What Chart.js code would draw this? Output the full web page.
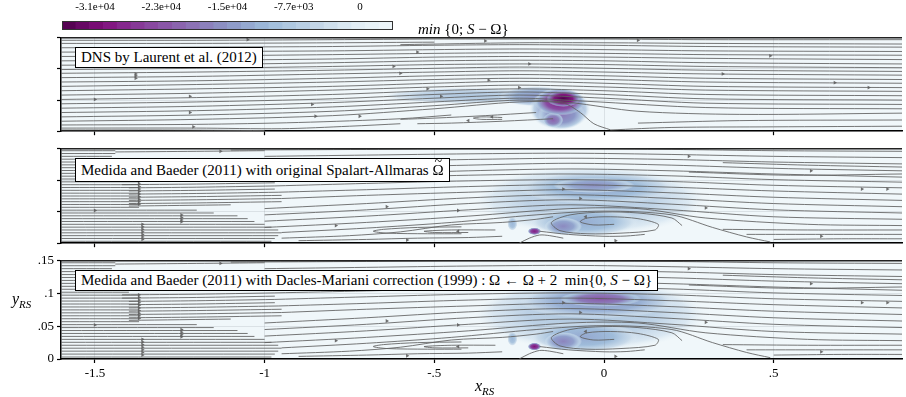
<!DOCTYPE html>
<html>
<head>
<meta charset="utf-8">
<script src="https://cdn.jsdelivr.net/npm/chart.js@4.4.1/dist/chart.umd.min.js"></script>
<style>
  body { margin: 0; background: #fff; width: 906px; height: 397px; position: relative; overflow: hidden;
         font-family: "Liberation Serif", "Times New Roman", serif; }
  canvas { position: absolute; left: 0; }
  .tag { position: absolute; left: 75px; background: #fff; border: 1px solid #000; font-size: 15px;
         line-height: 19px; padding: 0 5px; white-space: nowrap; color: #000; }
  .lab { position: absolute; font-size: 15px; line-height: 18px; white-space: nowrap; color: #000; }
  .lab sub { font-size: 11px; font-style: italic; vertical-align: -4px; line-height: 0; }
  .til { position: relative; display: inline-block; }
  .til span { position: absolute; left: 2px; top: -8px; font-size: 14px; }
</style>
</head>
<body>
<canvas id="cbar"></canvas>
<canvas id="p1"></canvas>
<canvas id="p2"></canvas>
<canvas id="p3"></canvas>

<div class="tag" style="top:47px">DNS by Laurent et al. (2012)</div>
<div class="tag" style="top:158px;line-height:22px">Medida and Baeder (2011) with original Spalart-Allmaras <span class="til">Ω<span>~</span></span></div>
<div class="tag" style="top:270px">Medida and Baeder (2011) with Dacles-Mariani correction (1999) : Ω ← Ω + 2 &nbsp;min{0, <i>S</i> − Ω}</div>
<div class="lab" style="left:418px;top:20px"><i>min</i> {0; <i>S</i> − Ω}</div>
<div class="lab" style="left:12px;top:290px;font-size:16px"><i>y</i><sub>RS</sub></div>
<div class="lab" style="left:475px;top:377px;font-size:16px"><i>x</i><sub>RS</sub></div>

<script>
Chart.defaults.font.family = '"Liberation Serif", "Times New Roman", serif';
Chart.defaults.color = '#000';

// axes
const xMin = -1.6, xMax = 0.878;
const xTicks = [-1.5, -1, -0.5, 0, 0.5];
const xTickLabels = ['-1.5', '-1', '-.5', '0', '.5'];
const yTicks = [0, 0.05, 0.1, 0.15];
const yTickLabels = ['0', '.05', '.1', '.15'];

// colorbar
const cbarMin = -30800;
const cbarTicks = [-30800, -23100, -15400, -7700, 0];
const cbarTickLabels = ['-3.1e+04', '-2.3e+04', '-1.5e+04', '-7.7e+03', '0'];
const cbarLevels = [-30158, -28875, -27592, -26308, -25025, -23742, -22458, -21175, -19892, -18608,
  -17325, -16042, -14758, -13475, -12192, -10908, -9625, -8342, -7058, -5775, -4492, -3208, -1925, -642];
const cmapStops = ['#f0f7fa', '#e0ecf4', '#bfd3e6', '#9ebcda', '#8c96c6', '#8c6bb1', '#88419d', '#810f7c', '#4d004b'];

// field blobs: x, y, half-width, half-height, value of min{0;S-Omega}
const dnsBlobs = [
  [-0.40, 0.057, 0.25, 0.013, -9500],
  [-0.20, 0.056, 0.11, 0.016, -15000],
  [-0.13, 0.036, 0.09, 0.034, -17000],
  [-0.125, 0.027, 0.07, 0.024, -18000],
  [-0.15, 0.018, 0.03, 0.012, -20000],
  [-0.13, 0.047, 0.075, 0.022, -26000],
  [-0.12, 0.052, 0.05, 0.013, -31000]
];
const sa2Blobs = [
  [-0.04, 0.068, 0.34, 0.055, -9000],
  [-0.02, 0.088, 0.23, 0.026, -13500],
  [-0.03, 0.092, 0.12, 0.012, -16000],
  [-0.06, 0.034, 0.16, 0.023, -13000],
  [-0.12, 0.027, 0.055, 0.014, -16500],
  [-0.205, 0.019, 0.02, 0.006, -26000],
  [-0.27, 0.031, 0.015, 0.011, -12000]
];
const sa3Blobs = [
  [-0.04, 0.068, 0.34, 0.055, -9500],
  [-0.02, 0.088, 0.23, 0.026, -15000],
  [-0.01, 0.092, 0.12, 0.012, -21000],
  [-0.06, 0.034, 0.16, 0.023, -13500],
  [-0.12, 0.027, 0.055, 0.014, -17000],
  [-0.205, 0.019, 0.02, 0.006, -27000],
  [-0.27, 0.031, 0.015, 0.011, -12000]
];

// streamlines, DNS panel
const dnsLines = [
  [[-1.6,.146],[-1.2,.146],[-0.8,.147],[-0.5,.148],[-0.25,.148],[0,.148],[0.3,.147],[0.878,.147]],
  [[-1.6,.141],[-1.2,.141],[-0.8,.142],[-0.5,.143]],
  [[-0.6,.139],[-0.25,.142],[0,.142],[0.3,.141],[0.878,.140]],
  [[-1.6,.134],[-1.2,.135],[-0.8,.136],[-0.5,.138],[-0.25,.139],[0,.138],[0.3,.136],[0.878,.135]],
  [[-1.6,.127],[-1.2,.128],[-0.8,.129],[-0.5,.131],[-0.25,.132],[0,.131],[0.3,.129],[0.878,.128]],
  [[-1.6,.120],[-1.2,.121],[-0.8,.123],[-0.5,.125],[-0.25,.126],[0,.125],[0.3,.123],[0.878,.122]],
  [[-1.6,.113],[-1.2,.114],[-0.8,.116],[-0.5,.119],[-0.25,.120],[0,.119],[0.3,.117],[0.878,.115]],
  [[-1.6,.106],[-1.2,.107],[-0.8,.110],[-0.5,.113],[-0.25,.114],[0,.113],[0.3,.110],[0.878,.108]],
  [[-1.6,.099],[-1.2,.101],[-0.8,.104],[-0.5,.107],[-0.25,.108],[0,.107],[0.3,.104],[0.878,.102]],
  [[-1.6,.093],[-1.2,.095],[-0.8,.098],[-0.5,.101],[-0.25,.103],[0,.101],[0.3,.098],[0.878,.096]],
  [[-1.6,.086],[-1.2,.088],[-0.8,.092],[-0.5,.095],[-0.25,.097],[0,.095],[0.3,.092],[0.878,.090]],
  [[-1.6,.079],[-1.2,.081],[-0.8,.085],[-0.5,.089],[-0.25,.091],[0,.089],[0.3,.085],[0.878,.083]],
  [[-1.6,.072],[-1.2,.075],[-0.8,.079],[-0.5,.083],[-0.25,.085],[0,.083],[0.3,.079],[0.878,.077]],
  [[-1.6,.065],[-1.2,.068],[-0.8,.072],[-0.5,.077],[-0.25,.080],[0,.077],[0.3,.072],[0.878,.070]],
  [[-1.6,.058],[-1.2,.061],[-0.8,.066],[-0.5,.071],[-0.25,.074],[0,.071],[0.3,.066],[0.878,.064]],
  [[-1.6,.051],[-1.2,.054],[-0.8,.059],[-0.5,.065],[-0.25,.068],[0,.065],[0.3,.059],[0.878,.057]],
  [[-1.6,.044],[-1.2,.047],[-0.8,.052],[-0.5,.059],[-0.25,.063],[0,.059],[0.3,.052],[0.878,.050]],
  [[-1.6,.037],[-1.2,.040],[-0.8,.046],[-0.5,.053],[-0.25,.058],[0,.053],[0.3,.045],[0.878,.043]],
  [[-1.6,.030],[-1.2,.033],[-0.8,.039],[-0.5,.047],[-0.25,.053],[-0.05,.048],[0.3,.038],[0.878,.036]],
  [[-1.6,.023],[-1.2,.026],[-0.8,.032],[-0.5,.041],[-0.25,.050],[-0.1,.046],[0.1,.032],[0.4,.027],[0.878,.029]],
  [[-1.6,.016],[-1.2,.019],[-0.8,.025],[-0.5,.036],[-0.25,.047],[-0.12,.045],[-0.07,.030],[-0.03,.012],[0.02,.002]],
  [[-1.6,.010],[-1.2,.011],[-0.9,.014],[-0.6,.020],[-0.45,.026]],
  [[-1.6,.005],[-1.2,.005],[-0.95,.004],[-0.75,.008],[-0.6,.012]],
  [[-1.6,.002],[-1.3,.002],[-1.0,.001]],
  [[-0.2,.030],[-0.35,.025],[-0.5,.021],[-0.6,.019]],
  [[-0.15,.020],[-0.3,.016],[-0.45,.013],[-0.55,.012]],
  [[-0.30,.022],[-0.36,.023],[-0.385,.021],[-0.36,.019],[-0.30,.019]],
  [[0.02,.002],[0.2,.006],[0.5,.007],[0.878,.008]],
  [[0.1,.013],[0.4,.017],[0.878,.018]]
];
const dnsArrows = [
  [-1.38,.092,1],[-1.38,.089,1],[-1.38,.085,1],[-1.5,.051,1],[-1.22,.056,1],[-1.22,.030,1],[-1.21,.007,1],
  [-1.05,.147,1],[-0.86,.043,1],[-0.85,.024,1],[-0.72,.024,1],[-0.55,.127,1],[-0.35,.145,1],[-0.62,.104,1],
  [-0.60,.093,1],[-0.22,.108,1],[-0.34,.082,1],[-0.52,.068,1],[-0.25,.070,1],[-0.33,.023,-1],[-0.40,.017,-1],
  [0.10,.146,1],[0.35,.092,1],[0.49,.121,1],[0.78,.070,1],[0.68,.078,1],[-0.48,.056,1]
];

// streamlines, Medida and Baeder panels: dense inflow lines [y, xStart, xEnd]
const saDense = [
  [.147,-1.6,-1.44],[.1425,-1.6,-1.44],[.138,-1.6,-1.45],[.1335,-1.6,-1.45],[.129,-1.6,-1.45],[.1245,-1.6,-1.45],
  [.120,-1.6,-1.45],[.1155,-1.6,-1.45],[.111,-1.6,-1.45],[.1065,-1.6,-1.45],[.102,-1.6,-1.40],[.0975,-1.6,-1.37],
  [.093,-1.6,-1.37],[.0885,-1.6,-1.37],[.084,-1.6,-1.37],[.0795,-1.6,-1.37],[.075,-1.6,-1.37],[.0705,-1.6,-1.37],
  [.066,-1.6,-1.37],[.0615,-1.6,-1.37],[.057,-1.6,-1.37],[.0525,-1.6,-1.20],[.048,-1.6,-1.15],[.0435,-1.6,-1.08],
  [.039,-1.6,-1.05],[.0345,-1.6,-1.03],[.030,-1.6,-1.00],[.0255,-1.6,-0.98],[.021,-1.6,-0.96],[.0165,-1.6,-0.95],
  [.012,-1.6,-0.96],[.0075,-1.6,-0.97],[.003,-1.6,-0.98]
];
const saLines = [
  [[-1.44,.145],[-1.2,.146],[-1.0,.147]],
  [[-1.42,.098],[-1.2,.099],[-0.97,.101]],
  [[-1.42,.093],[-1.2,.094],[-0.97,.096]],
  [[-1.40,.088],[-1.2,.089],[-0.97,.091]],
  [[-1.40,.083],[-1.2,.084],[-0.97,.086]],
  [[-1.40,.078],[-1.2,.079],[-0.96,.081]],
  [[-1.40,.073],[-1.2,.074],[-0.95,.076]],
  [[-1.40,.068],[-1.2,.069],[-0.95,.071]],
  [[-1.40,.063],[-1.2,.064],[-0.95,.066]],
  [[-1.40,.059],[-1.25,.060],[-1.1,.061]],
  [[-1.1,.148],[-0.7,.149],[-0.4,.150],[-0.1,.150],[0.2,.149],[0.5,.147],[0.878,.146]],
  [[-1.0,.138],[-0.7,.140],[-0.4,.142],[-0.1,.143],[0.2,.141],[0.5,.138],[0.878,.136]],
  [[-1.0,.127],[-0.7,.130],[-0.4,.133],[-0.1,.135],[0.2,.133],[0.5,.129],[0.878,.126]],
  [[-1.0,.116],[-0.7,.120],[-0.4,.124],[-0.1,.127],[0.2,.124],[0.5,.119],[0.878,.115]],
  [[-1.0,.105],[-0.7,.110],[-0.4,.115],[-0.1,.118],[0.2,.115],[0.5,.110],[0.878,.105]],
  [[-0.97,.101],[-0.7,.104],[-0.4,.108],[-0.1,.110],[0.2,.107],[0.5,.101],[0.878,.097]],
  [[-0.97,.091],[-0.7,.095],[-0.4,.099],[-0.1,.101],[0.2,.098],[0.5,.092],[0.878,.088]],
  [[-0.96,.081],[-0.7,.085],[-0.4,.090],[-0.1,.093],[0.2,.089],[0.5,.083],[0.878,.078]],
  [[-0.95,.071],[-0.7,.076],[-0.4,.081],[-0.1,.085],[0.2,.080],[0.5,.073],[0.878,.068]],
  [[-1.0,.055],[-0.7,.063],[-0.4,.072],[-0.1,.077],[0.2,.071],[0.5,.063],[0.878,.058]],
  [[-1.0,.045],[-0.7,.053],[-0.4,.063],[-0.1,.069],[0.2,.062],[0.5,.053],[0.878,.048]],
  [[-1.0,.035],[-0.7,.043],[-0.4,.053],[-0.1,.061],[0.2,.053],[0.5,.042],[0.878,.038]],
  [[-1.0,.025],[-0.7,.033],[-0.4,.043],[-0.1,.055],[0.1,.055],[0.3,.040],[0.6,.030],[0.878,.028]],
  [[-0.95,.017],[-0.7,.024],[-0.45,.033],[-0.2,.045],[0,.051],[0.2,.045],[0.32,.025],[0.42,.010],[0.49,.002]],
  [[-0.95,.008],[-0.75,.012],[-0.6,.018],[-0.45,.029],[-0.3,.033],[-0.2,.038],[-0.15,.042]],
  [[-0.9,.004],[-0.7,.006],[-0.55,.008],[-0.4,.009],[-0.3,.011]],
  [[-0.42,.026],[-0.55,.025],[-0.65,.022],[-0.68,.019],[-0.64,.016],[-0.52,.015],[-0.42,.015]],
  [[-0.32,.021],[-0.45,.021],[-0.53,.019],[-0.50,.017],[-0.40,.017]],
  [[0.23,.028],[0.2,.040],[0.1,.048],[0,.0495],[-0.1,.045],[-0.155,.033],[-0.13,.020],[-0.05,.015],[0.05,.016],
   [0.15,.021],[0.16,.030],[0.1,.039],[0.02,.042],[-0.05,.040],[-0.07,.034],[-0.03,.029],[0.03,.030]],
  [[-0.19,.019],[-0.105,.014],[0,.011],[0.065,.0114],[0.12,.014]],
  [[-0.25,.000],[-0.22,.008],[-0.19,.013],[-0.16,.012],[-0.12,.008]],
  [[0.35,.128],[0.6,.124],[0.878,.121]],
  [[0.25,.113],[0.55,.108],[0.878,.110]],
  [[0.35,.022],[0.6,.021],[0.878,.021]],
  [[0.42,.014],[0.65,.014],[0.878,.014]],
  [[0.5,.006],[0.7,.007],[0.878,.007]]
];
const saArrows = [
  [-1.37,.098,1],[-1.37,.094,1],[-1.37,.090,1],[-1.37,.086,1],[-1.37,.082,1],[-1.37,.078,1],[-1.37,.074,1],
  [-1.37,.070,1],[-1.37,.066,1],[-1.37,.062,1],[-1.36,.030,1],[-1.36,.026,1],[-1.36,.022,1],[-1.36,.018,1],
  [-1.36,.014,1],[-1.36,.010,1],[-1.36,.006,1],[-1.245,.045,1],[-1.245,.041,1],[-1.245,.037,1],[-1.245,.034,1],
  [-1.5,.052,1],[-1.13,.146,1],[-0.64,.058,1],[-0.43,.052,1],[-0.79,.028,1],[-0.43,.019,-1],[-0.58,.005,1],
  [-0.12,.086,1],[-0.07,.071,1],[-0.054,.042,-1],[0.034,.004,1],[0.30,.056,1],[0.61,.115,1],[0.76,.086,1],
  [0.835,.086,1],[0.64,.011,1],[0.25,.138,1]
];

function hexRgb(h) {
  return [parseInt(h.slice(1, 3), 16), parseInt(h.slice(3, 5), 16), parseInt(h.slice(5, 7), 16)];
}
function cmap(v, a) {
  if (a === undefined) a = 1;
  const t = Math.min(1, Math.max(0, v / cbarMin));
  const s = t * (cmapStops.length - 1);
  const i = Math.min(Math.floor(s), cmapStops.length - 2);
  const f = s - i;
  const c0 = hexRgb(cmapStops[i]), c1 = hexRgb(cmapStops[i + 1]);
  const c = c0.map((c, k) => Math.round(c + (c1[k] - c) * f));
  return `rgba(${c[0]},${c[1]},${c[2]},${a})`;
}

// background + field blobs under the grid, top frame line over everything
function fieldPlugin(blobs) {
  return {
    id: 'field',
    beforeDraw(chart) {
      const {ctx, chartArea: a, scales: {x, y}} = chart;
      ctx.save();
      ctx.beginPath();
      ctx.rect(a.left, a.top, a.width, a.height);
      ctx.clip();
      ctx.fillStyle = cmap(0);
      ctx.fillRect(a.left, a.top, a.width, a.height);
      blobs.forEach(b => {
        const cx = x.getPixelForValue(b[0]), cy = y.getPixelForValue(b[1]);
        const rx = x.getPixelForValue(b[0] + b[2]) - cx;
        const ry = cy - y.getPixelForValue(b[1] + b[3]);
        ctx.save();
        ctx.translate(cx, cy);
        ctx.scale(1, ry / rx);
        const g = ctx.createRadialGradient(0, 0, 0, 0, 0, rx);
        g.addColorStop(0, cmap(b[4]));
        g.addColorStop(0.55, cmap(b[4] * 0.85));
        g.addColorStop(0.85, cmap(b[4] * 0.5, 0.9));
        g.addColorStop(1, cmap(b[4] * 0.2, 0));
        ctx.fillStyle = g;
        ctx.beginPath();
        ctx.arc(0, 0, rx, 0, 2 * Math.PI);
        ctx.fill();
        ctx.restore();
      });
      ctx.restore();
    },
    afterDraw(chart) {
      const {ctx, chartArea: a} = chart;
      ctx.save();
      ctx.strokeStyle = '#222';
      ctx.lineWidth = 1.5;
      ctx.beginPath();
      ctx.moveTo(a.left, a.top);
      ctx.lineTo(a.right, a.top);
      ctx.stroke();
      ctx.restore();
    }
  };
}

function drawPanel(id, plotTop, plotH, lines, arrows, blobs, labelled) {
  const axisH = labelled ? 26 : 6;
  const cv = document.getElementById(id);
  cv.width = 906;
  cv.height = 8 + plotH + axisH;
  cv.style.top = (plotTop - 8) + 'px';

  const datasets = lines.map(pts => ({
    data: pts.map(p => ({x: p[0], y: p[1]})),
    showLine: true,
    borderColor: 'rgba(95,95,95,0.85)',
    borderWidth: 1,
    pointRadius: 0,
    tension: 0.3
  }));
  datasets.push({
    data: arrows.map(a => ({x: a[0], y: a[1]})),
    pointStyle: 'triangle',
    pointRotation: arrows.map(a => a[2] < 0 ? 270 : 90),
    pointRadius: 2.2,
    pointBackgroundColor: 'rgba(95,95,95,0.9)',
    pointBorderWidth: 0
  });

  new Chart(cv, {
    type: 'scatter',
    data: {datasets},
    options: {
      responsive: false,
      animation: false,
      events: [],
      layout: {padding: {top: 8, left: 0, right: 0, bottom: 0}},
      plugins: {legend: {display: false}, tooltip: {enabled: false}},
      scales: {
        x: {
          type: 'linear', min: xMin, max: xMax,
          afterBuildTicks: s => { s.ticks = xTicks.map(v => ({value: v})); },
          afterFit: s => { s.height = axisH; },
          ticks: {callback: (v, i) => labelled ? xTickLabels[i] : '', font: {size: 13}, padding: 3,
                  maxRotation: 0, autoSkip: false},
          grid: {color: 'rgba(120,130,135,0.18)', tickColor: '#000', tickLength: 4, tickWidth: 1.2},
          border: {color: '#000', width: 1.5}
        },
        y: {
          type: 'linear', min: 0, max: 0.15,
          afterBuildTicks: s => { s.ticks = yTicks.map(v => ({value: v})); },
          afterFit: s => { s.width = 61; },
          ticks: {callback: (v, i) => labelled ? yTickLabels[i] : '', font: {size: 13}, padding: 3},
          grid: {color: 'rgba(120,130,135,0.18)', tickColor: '#000', tickLength: 4, tickWidth: 1.2},
          border: {color: '#000', width: 1.5}
        }
      }
    },
    plugins: [fieldPlugin(blobs)]
  });
}

// colorbar
const cb = document.getElementById('cbar');
cb.width = 400;
cb.height = 30;
cb.style.top = '0px';
new Chart(cb, {
  type: 'bar',
  data: {
    labels: cbarLevels,
    datasets: [{
      data: cbarLevels.map(() => 1),
      backgroundColor: cbarLevels.map(v => cmap(v)),
      barPercentage: 1,
      categoryPercentage: 1,
      borderWidth: 0
    }]
  },
  options: {
    responsive: false,
    animation: false,
    events: [],
    layout: {padding: {left: 62, right: 7, top: 0, bottom: 0}},
    plugins: {legend: {display: false}, tooltip: {enabled: false}},
    scales: {
      x: {display: false},
      y: {display: false, min: 0, max: 1},
      xt: {
        type: 'linear', position: 'top', min: cbarMin, max: 0,
        afterBuildTicks: s => { s.ticks = cbarTicks.map(v => ({value: v})); },
        afterFit: s => { s.height = 21; },
        ticks: {callback: (v, i) => cbarTickLabels[i], font: {size: 11}, padding: 7, maxRotation: 0, autoSkip: false},
        grid: {display: false, drawTicks: false},
        border: {display: false}
      }
    }
  },
  plugins: [{
    id: 'cbarFrame',
    afterDraw(chart) {
      const {ctx, chartArea: a} = chart;
      ctx.save();
      ctx.strokeStyle = '#333';
      ctx.lineWidth = 1;
      ctx.strokeRect(a.left + 0.5, a.top + 0.5, a.width - 1, a.height - 1);
      ctx.restore();
    }
  }]
});

drawPanel('p1', 35, 101, dnsLines, dnsArrows, dnsBlobs, false);
drawPanel('p2', 146, 102, saDense.map(d => [[d[1], d[0]], [d[2], d[0]]]).concat(saLines), saArrows, sa2Blobs, false);
drawPanel('p3', 258, 101, saDense.map(d => [[d[1], d[0]], [d[2], d[0]]]).concat(saLines), saArrows, sa3Blobs, true);
</script>
</body>
</html>
